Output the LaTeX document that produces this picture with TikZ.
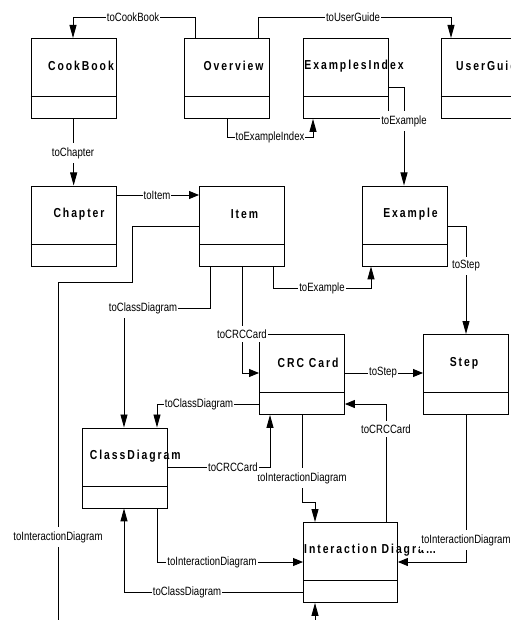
\documentclass[tikz,border=0pt]{standalone}
\usepackage{fontspec}
\setmainfont{Liberation Sans}
\newfontfamily\lblfont[FakeStretch=0.8]{Liberation Sans}
\newfontfamily\ttlfont[FakeStretch=0.8,LetterSpace=15]{Liberation Sans Bold}
\usetikzlibrary{arrows.meta}
\begin{document}
\begin{tikzpicture}[x=1bp,y=-1bp,
  cls/.style={draw, line width=0.9bp, minimum width=85bp, minimum height=80bp, inner sep=0pt, anchor=north west},
  ttl/.style={font={\ttlfont\fontsize{13bp}{15bp}\selectfont}, inner sep=0pt},
  lbl/.style={font={\lblfont\fontsize{12bp}{14bp}\selectfont}, fill=white, inner xsep=1bp, inner ysep=4bp},
  con/.style={line width=0.9bp},
  va/.style={con, -{Triangle[length=13bp,width=7bp]}},
  ha/.style={con, -{Triangle[length=10bp,width=8bp]}}]
\useasboundingbox (0,0) rectangle (511,620);
\clip (0,0) rectangle (511,620);
\fill[white] (0,0) rectangle (511,620);
% class boxes
\node[cls] (cb) at (30.7,38) {};
\node[cls] (ov) at (184,38) {};
\node[cls] (ei) at (303,38) {};
\node[cls] (ug) at (440.7,38) {};
\node[cls] (ch) at (30.7,185.5) {};
\node[cls] (it) at (199,185.5) {};
\node[cls] (ex) at (362,185.5) {};
\node[cls] (crc) at (259,334) {};
\node[cls] (st) at (423,334) {};
\node[cls] (cd) at (82,427.5) {};
\node[cls, minimum width=94bp] (id) at (303,522) {};
\foreach \n in {cb,ov,ei,ug,ch,it,ex,crc,st,cd,id}
  \draw[con] ([yshift=22bp]\n.south west) -- ([yshift=22bp]\n.south east);
% titles
\node[ttl] (tcb) at (81,66) {CookBook};
\node[ttl] (tov) at (233.5,66) {Overview};
\node[ttl] (tei) at (354,66) {ExamplesIndex};
\node[ttl, anchor=west] (tug) at (456,66) {UserGuide};
\node[ttl] (tch) at (79,214) {Chapter};
\node[ttl] (tit) at (244.5,214) {Item};
\node[ttl] (tex) at (410.5,214) {Example};
\node[ttl] (tcrc) at (308,363) {CRC Card};
\node[ttl] (tst) at (464,363) {Step};
\node[ttl] (tcd) at (135.3,456) {ClassDiagram};
\node[ttl, anchor=west] (tid) at (304,550) {Interaction Diagra…};
% connectors
\draw[va] (ov.north-|195,0) |- (73,17) -- (cb.north-|73,0);
\draw[va] (ov.north-|258,0) |- (451,17) -- (ug.north-|451,0);
\draw[va] (cb.south) -- (ch.north);
\draw[va] (ov.south-|227,0) |- (313,137) -- (ei.south-|313,0);
\draw[va] (ei.east|-0,87) -| (ex.north-|404,0);
\draw[ha] (ch.east|-0,195) -- (it.west|-0,195);
\draw[va] (it.west|-0,226) -- (132,226) -- (132,282) -- (58,282) -- (58,640) -- (315,640) -- (id.south-|315,0);
\draw[va] (it.south-|273,0) |- (371,288) -- (ex.south-|371,0);
\draw[va] (it.south-|210,0) |- (124,308) -- (cd.north-|124,0);
\draw[ha] (it.south-|242,0) |- (crc.west|-0,373);
\draw[va] (ex.east|-0,226) -| (st.north-|466,0);
\draw[ha] (crc.east|-0,373) -- (st.west|-0,373);
\draw[va] (crc.west|-0,404) -| (cd.north-|157,0);
\draw[va] (cd.east|-0,467) -| (crc.south-|270,0);
\draw[va] (crc.south-|302,0) |- (315,502) -- (id.north-|315,0);
\draw[ha] (id.north-|386,0) |- (crc.east|-0,404);
\draw[ha] (st.south-|466,0) |- (id.east|-0,562);
\draw[ha] (cd.south-|157,0) |- (id.west|-0,562);
\draw[va] (id.west|-0,592) -| (cd.south-|124,0);
% labels
\node[lbl] (l1) at (133,17) {toCookBook};
\node[lbl] (l2) at (353,17) {toUserGuide};
\node[lbl] (l3) at (73,153) {toChapter};
\node[lbl] (l4) at (270,137) {toExampleIndex};
\node[lbl] (l5) at (404,121) {toExample};
\node[lbl] (l6) at (157,195) {toItem};
\node[lbl] (l7) at (58,537) {toInteractionDiagram};
\node[lbl] (l8) at (322,288) {toExample};
\node[lbl] (l9) at (143,308) {toClassDiagram};
\node[lbl] (l10) at (242,334) {toCRCCard};
\node[lbl] (l11) at (466,266) {toStep};
\node[lbl] (l12) at (383,373) {toStep};
\node[lbl] (l13) at (199,404) {toClassDiagram};
\node[lbl] (l15) at (302,478) {toInteractionDiagram};
\node[lbl] (l14) at (233,467) {toCRCCard};
\node[lbl] (l16) at (386,429) {toCRCCard};
\node[lbl] (l17) at (466,540) {toInteractionDiagram};
\node[lbl] (l18) at (212,562) {toInteractionDiagram};
\node[lbl] (l19) at (187,592) {toClassDiagram};
\end{tikzpicture}
\end{document}
